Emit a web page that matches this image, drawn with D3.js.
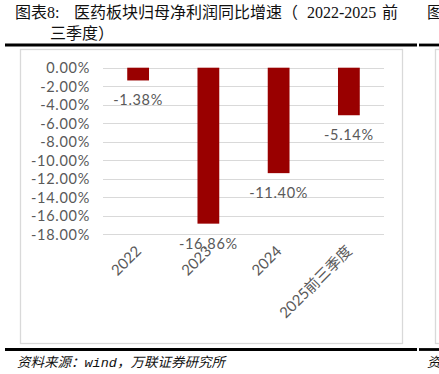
<!DOCTYPE html>
<html>
<head>
<meta charset="utf-8">
<script src="https://cdn.jsdelivr.net/npm/d3@7/dist/d3.min.js"></script>
<style>
  html, body { margin: 0; padding: 0; background: #fff; }
  svg { display: block; }
</style>
</head>
<body>
<script>
// Net profit attributable to parent, YoY growth, pharma sector
const categories = ["2022", "2023", "2024", "2025前三季度"];
const growth = [-1.38, -16.86, -11.40, -5.14];
const yTicks = [0, -2, -4, -6, -8, -10, -12, -14, -16, -18];

const W = 439, H = 374;
const svg = d3.select("body").append("svg")
  .attr("width", W).attr("height", H);

svg.append("rect").attr("width", W).attr("height", H).attr("fill", "#fff");

const serif = "'Liberation Serif', 'Noto Sans CJK SC', serif";
const cjk = "'Noto Sans CJK SC', 'Noto Sans', sans-serif";
const num = "Lato, 'Noto Sans CJK SC', sans-serif";
const grey = "#595959";

// Title block
const title = svg.append("text")
  .attr("font-family", serif).attr("font-size", 16).attr("fill", "#111");
title.append("tspan").attr("x", 15).attr("y", 17.5).text("图表8:");
title.append("tspan").attr("x", 74).attr("y", 17.5).text("医药板块归母净利润同比增速（");
title.append("tspan").attr("x", 307).attr("y", 17.5).text("2022-2025");
title.append("tspan").attr("x", 382).attr("y", 17.5).text("前");
svg.append("text").attr("font-family", serif).attr("font-size", 16).attr("fill", "#111")
  .attr("x", 50).attr("y", 39).text("三季度）");
svg.append("text").attr("font-family", serif).attr("font-size", 16).attr("fill", "#111")
  .attr("x", 427).attr("y", 17.5).text("图");

// Heavy rules above and below the chart frame
[45, 349.5].forEach(yy => {
  svg.append("line").attr("x1", 5).attr("x2", 417).attr("y1", yy).attr("y2", yy)
    .attr("stroke", "#000").attr("stroke-width", 2.8);
  svg.append("line").attr("x1", 419).attr("x2", W).attr("y1", yy).attr("y2", yy)
    .attr("stroke", "#000").attr("stroke-width", 2.8);
});

// Chart frames
svg.append("rect").attr("x", 20.5).attr("y", 49.5).attr("width", 382).attr("height", 294)
  .attr("fill", "none").attr("stroke", "#d9d9d9").attr("stroke-width", 1.3);
svg.append("rect").attr("x", 435.5).attr("y", 49.5).attr("width", 40).attr("height", 294)
  .attr("fill", "none").attr("stroke", "#d9d9d9").attr("stroke-width", 1.3);

// Scales
const x = d3.scaleBand().domain(categories).range([103, 384])
  .paddingInner(0.69).paddingOuter(0.345);
const y = d3.scaleLinear().domain([0, -18]).range([67.7, 234.2]);
const fmt = v => d3.format(".2f")(v).replace("−", "-") + "%";

// Gridlines
svg.append("g").selectAll("line").data(yTicks).join("line")
  .attr("x1", 103).attr("x2", 384)
  .attr("y1", d => Math.round(y(d)) + 0.5).attr("y2", d => Math.round(y(d)) + 0.5)
  .attr("stroke", "#d9d9d9").attr("stroke-width", 1);

// Y axis labels
const yAxis = d3.axisLeft(y).tickValues(yTicks).tickSize(0).tickPadding(0).tickFormat(fmt);
svg.append("g").attr("transform", "translate(90,0)").call(yAxis)
  .call(g => g.select(".domain").remove())
  .call(g => g.selectAll("text")
    .attr("font-family", num).attr("font-size", 14.5).attr("fill", grey)
    .attr("letter-spacing", 0.7).attr("dy", "0.36em"));

// Bars
svg.append("g").selectAll("rect").data(growth).join("rect")
  .attr("x", (d, i) => x(categories[i]))
  .attr("width", x.bandwidth())
  .attr("y", y(0))
  .attr("height", d => y(d) - y(0))
  .attr("fill", "#990000");

// Value labels under each bar
svg.append("g").selectAll("text").data(growth).join("text")
  .attr("x", (d, i) => x(categories[i]) + x.bandwidth() / 2)
  .attr("y", d => y(d) + 25)
  .attr("text-anchor", "middle")
  .attr("font-family", num).attr("font-size", 14.5).attr("fill", grey)
  .attr("letter-spacing", 0.7)
  .text(d => fmt(d));

// Category labels, rotated
const xAxis = d3.axisBottom(x).tickSize(0).tickPadding(0);
svg.append("g").call(xAxis)
  .call(g => g.select(".domain").remove())
  .call(g => g.selectAll(".tick").attr("transform", d => `translate(${x(d) + x.bandwidth() / 2 + 4},252)`))
  .call(g => g.selectAll("text")
    .attr("font-family", num).attr("font-size", 15).attr("fill", grey)
    .attr("text-anchor", "end").attr("x", 0).attr("y", 0).attr("dy", 0)
    .attr("transform", "rotate(-45)"));

// Source note
const src = svg.append("text").attr("x", 17).attr("y", 367)
  .attr("font-size", 13.5).attr("font-style", "italic").attr("fill", "#111")
  .attr("font-family", cjk);
src.append("tspan").text("资料来源：");
src.append("tspan").attr("font-family", "'Liberation Mono', monospace").text("wind");
src.append("tspan").text("，万联证券研究所");
svg.append("text").attr("x", 427).attr("y", 367)
  .attr("font-size", 13.5).attr("font-style", "italic").attr("fill", "#111")
  .attr("font-family", cjk).text("资");
</script>
</body>
</html>
